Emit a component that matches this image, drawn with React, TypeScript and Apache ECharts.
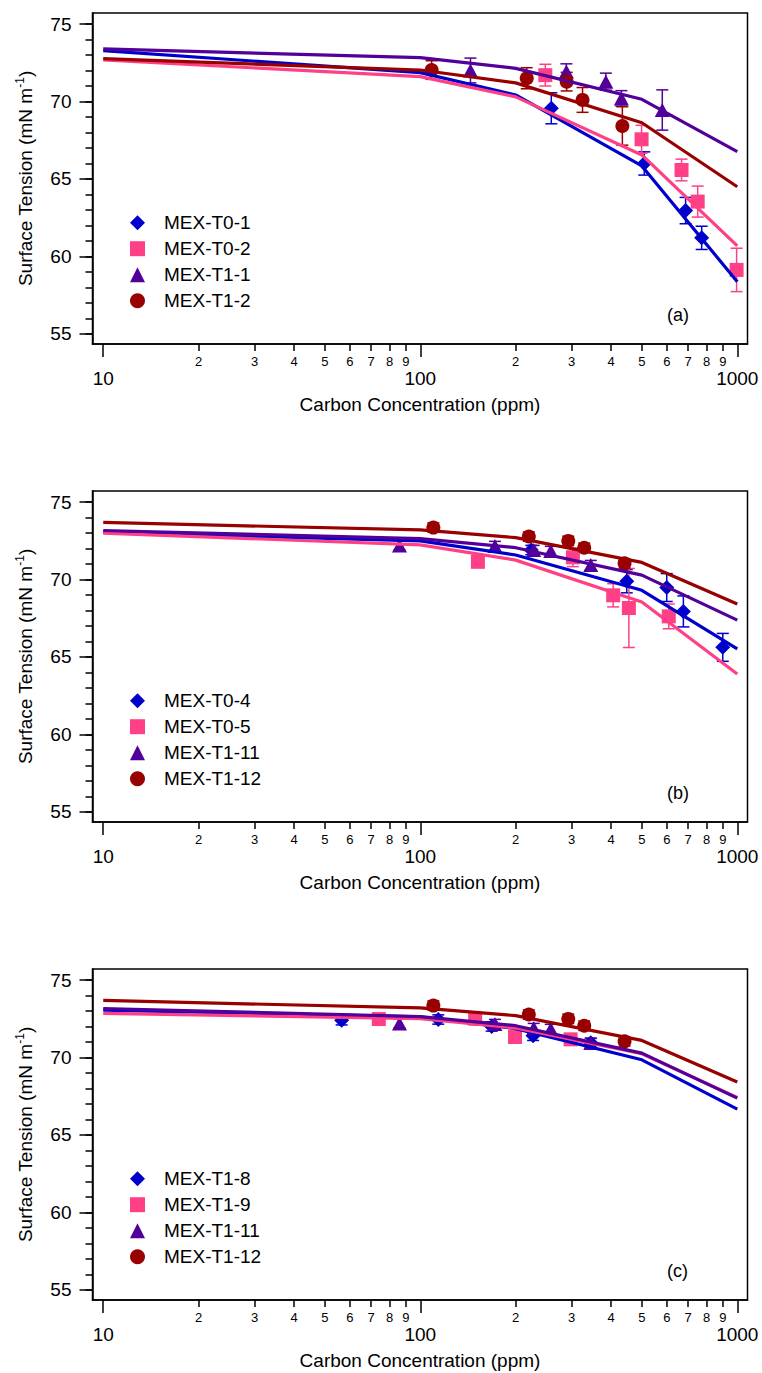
import React, { useEffect, useRef } from "react";
import * as echarts from "echarts";

const FONT = "'Liberation Sans', Arial, Helvetica, sans-serif";

// x positions of the model (fit) curves, ppm
const FIT_X = [10, 100, 200, 500, 1000];

// axis ticks
const X_MAJOR = [10, 100, 1000];
const X_MINOR = [2, 3, 4, 5, 6, 7, 8, 9, 20, 30, 40, 50, 60, 70, 80, 90, 200, 300, 400, 500, 600, 700, 800, 900];
const Y_MAJOR = [55, 60, 65, 70, 75];
const Y_MINOR = [55, 56, 57, 58, 59, 60, 61, 62, 63, 64, 65, 66, 67, 68, 69, 70, 71, 72, 73, 74, 75];
const X_RANGE = [9.25, 1077];
const Y_RANGE = [54.35, 75.71];

const PANEL_LABELS = ["(a)", "(b)", "(c)"];

// ---------- Panel (a)
const A_T01_X = [259, 509, 687, 772];
const A_T01_Y = [69.56, 66.0, 62.96, 61.2];
const A_T01_ERR = [1.0, 0.75, 0.85, 0.75];
const A_T01_FIT = [73.28, 71.86, 70.42, 65.84, 58.37];

const A_T02_X = [248, 499, 667, 750, 995];
const A_T02_Y = [71.7, 67.56, 65.58, 63.54, 59.13];
const A_T02_ERR = [0.7, 0.9, 0.7, 1.0, 1.4];
const A_T02_FIT = [72.68, 71.6, 70.3, 66.55, 60.68];

const A_T11_X = [144, 289, 385, 431, 580];
const A_T11_Y = [72.0, 71.93, 71.28, 70.2, 69.45];
const A_T11_ERR = [0.8, 0.5, 0.55, 0.5, 1.3];
const A_T11_FIT = [73.39, 72.83, 72.14, 70.14, 66.76];

const A_T12_X = [108.6, 216.7, 289.6, 325, 434];
const A_T12_Y = [72.03, 71.5, 71.28, 70.1, 68.42];
const A_T12_ERR = [0.6, 0.68, 0.6, 0.8, 1.24];
const A_T12_FIT = [72.76, 72.03, 71.2, 68.63, 64.5];

// ---------- Panel (b)
const B_T04_X = [224, 448, 599, 676, 900];
const B_T04_Y = [71.9, 69.89, 69.48, 67.94, 65.62];
const B_T04_ERR = [0.3, 0.75, 0.9, 1.0, 0.9];
const B_T04_FIT = [73.05, 72.49, 71.58, 69.3, 65.52];

const B_T05_X = [152, 303, 406, 455, 608];
const B_T05_Y = [71.14, 71.43, 68.98, 68.16, 67.62];
const B_T05_ERR = [0.3, 0.6, 0.75, 2.55, 0.8];
const B_T05_FIT = [72.99, 72.23, 71.25, 68.55, 63.9];

// ---------- shared by (b) and (c)
const T111_X = [86, 172, 228, 258, 345];
const T111_Y = [72.2, 72.16, 71.9, 71.84, 70.93];
const T111_ERR = [0.3, 0.3, 0.3, 0.3, 0.3];
const T111_FIT = [73.16, 72.64, 72.05, 70.28, 67.38];

const T112_X = [110, 220, 293, 329, 441];
const T112_Y = [73.35, 72.77, 72.49, 72.05, 71.04];
const T112_ERR = [0.3, 0.3, 0.3, 0.3, 0.3];
const T112_FIT = [73.68, 73.2, 72.7, 71.1, 68.42];

// ---------- Panel (c)
const C_T18_X = [56.5, 114, 168, 227, 345];
const C_T18_Y = [72.4, 72.45, 72.0, 71.4, 70.95];
const C_T18_ERR = [0.3, 0.3, 0.3, 0.3, 0.3];
const C_T18_FIT = [73.05, 72.62, 71.86, 69.85, 66.67];

const C_T19_X = [74, 149, 199, 298];
const C_T19_Y = [72.48, 72.5, 71.32, 71.17];
const C_T19_ERR = [0.3, 0.3, 0.3, 0.3];
const C_T19_FIT = [72.84, 72.51, 71.9, 70.24, 67.42];

const BLUE = "#0000cc";
const PINK = "#ff4086";
const PURPLE = "#520099";
const RED = "#990000";

type Sample = {
  name: string;
  color: string;
  symbol: string;
  size: number | number[];
  x: number[];
  y: number[];
  err: number[];
  fit: number[];
};

const DIAMOND = { symbol: "diamond", size: 15 };
const SQUARE = { symbol: "rect", size: 14 };
const TRI = { symbol: "triangle", size: [15, 14] };
const CIRC = { symbol: "circle", size: 14 };

const PANELS: Sample[][] = [
  [
    { name: "MEX-T0-1", color: BLUE, ...DIAMOND, x: A_T01_X, y: A_T01_Y, err: A_T01_ERR, fit: A_T01_FIT },
    { name: "MEX-T0-2", color: PINK, ...SQUARE, x: A_T02_X, y: A_T02_Y, err: A_T02_ERR, fit: A_T02_FIT },
    { name: "MEX-T1-1", color: PURPLE, ...TRI, x: A_T11_X, y: A_T11_Y, err: A_T11_ERR, fit: A_T11_FIT },
    { name: "MEX-T1-2", color: RED, ...CIRC, x: A_T12_X, y: A_T12_Y, err: A_T12_ERR, fit: A_T12_FIT },
  ],
  [
    { name: "MEX-T0-4", color: BLUE, ...DIAMOND, x: B_T04_X, y: B_T04_Y, err: B_T04_ERR, fit: B_T04_FIT },
    { name: "MEX-T0-5", color: PINK, ...SQUARE, x: B_T05_X, y: B_T05_Y, err: B_T05_ERR, fit: B_T05_FIT },
    { name: "MEX-T1-11", color: PURPLE, ...TRI, x: T111_X, y: T111_Y, err: T111_ERR, fit: T111_FIT },
    { name: "MEX-T1-12", color: RED, ...CIRC, x: T112_X, y: T112_Y, err: T112_ERR, fit: T112_FIT },
  ],
  [
    { name: "MEX-T1-8", color: BLUE, ...DIAMOND, x: C_T18_X, y: C_T18_Y, err: C_T18_ERR, fit: C_T18_FIT },
    { name: "MEX-T1-9", color: PINK, ...SQUARE, x: C_T19_X, y: C_T19_Y, err: C_T19_ERR, fit: C_T19_FIT },
    { name: "MEX-T1-11", color: PURPLE, ...TRI, x: T111_X, y: T111_Y, err: T111_ERR, fit: T111_FIT },
    { name: "MEX-T1-12", color: RED, ...CIRC, x: T112_X, y: T112_Y, err: T112_ERR, fit: T112_FIT },
  ],
];

const lg = (v: number) => Math.log10(v);

const GRID_LEFT = 92.5;
const GRID_WIDTH = 655;
const GRID_HEIGHT = 331;
const GRID_TOP0 = 13;
const PANEL_STEP = 478;

function buildOption() {
  const grid: any[] = [];
  const xAxis: any[] = [];
  const yAxis: any[] = [];
  const series: any[] = [];
  const legend: any[] = [];
  const graphic: any[] = [];

  for (let gi = 0; gi < 3; gi++) {
    const top = GRID_TOP0 + PANEL_STEP * gi;
    grid.push({
      left: GRID_LEFT,
      top,
      width: GRID_WIDTH,
      height: GRID_HEIGHT,
      show: true,
      borderColor: "#000",
      borderWidth: 1.5,
      backgroundColor: "transparent",
    });
    // major x axis
    xAxis.push({
      type: "value",
      gridIndex: gi,
      position: "bottom",
      min: lg(X_RANGE[0]),
      max: lg(X_RANGE[1]),
      name: "Carbon Concentration (ppm)",
      nameLocation: "middle",
      nameGap: 51,
      nameTextStyle: { fontSize: 19, color: "#000", fontFamily: FONT },
      axisLine: { show: true, lineStyle: { color: "#000", width: 1.5 } },
      axisTick: { show: true, customValues: X_MAJOR.map(lg), length: 13, lineStyle: { color: "#000", width: 1.5 } },
      axisLabel: {
        customValues: X_MAJOR.map(lg),
        formatter: (v: number) => String(Math.round(Math.pow(10, v))),
        fontSize: 19,
        color: "#000",
        fontFamily: FONT,
        margin: 25,
      },
      splitLine: { show: false },
    });
    // minor x axis
    xAxis.push({
      type: "value",
      gridIndex: gi,
      position: "bottom",
      min: lg(X_RANGE[0]),
      max: lg(X_RANGE[1]),
      axisLine: { show: false },
      axisTick: { show: true, customValues: X_MINOR.map(lg), length: 7, lineStyle: { color: "#000", width: 1.5 } },
      axisLabel: {
        customValues: X_MINOR.map(lg),
        formatter: (v: number) => {
          const raw = Math.pow(10, v);
          return String(Math.round(raw / Math.pow(10, Math.floor(v + 1e-9))));
        },
        fontSize: 13,
        color: "#000",
        fontFamily: FONT,
        margin: 11,
      },
      splitLine: { show: false },
    });
    // major y axis
    yAxis.push({
      type: "value",
      gridIndex: gi,
      position: "left",
      min: Y_RANGE[0],
      max: Y_RANGE[1],
      name: "Surface Tension (mN m{sup|-1})",
      nameLocation: "middle",
      nameRotate: 90,
      nameGap: 55,
      nameTextStyle: {
        fontSize: 19,
        color: "#000",
        fontFamily: FONT,
        rich: { sup: { fontSize: 12, color: "#000", fontFamily: FONT, padding: [0, 0, 12, 0] } },
      },
      axisLine: { show: true, lineStyle: { color: "#000", width: 1.5 } },
      axisTick: { show: true, customValues: Y_MAJOR, length: 13, lineStyle: { color: "#000", width: 1.5 } },
      axisLabel: { customValues: Y_MAJOR, fontSize: 19, color: "#000", fontFamily: FONT, margin: 21 },
      splitLine: { show: false },
    });
    // minor y axis
    yAxis.push({
      type: "value",
      gridIndex: gi,
      position: "left",
      min: Y_RANGE[0],
      max: Y_RANGE[1],
      axisLine: { show: false },
      axisTick: { show: true, customValues: Y_MINOR, length: 7, lineStyle: { color: "#000", width: 1.5 } },
      axisLabel: { show: false },
      splitLine: { show: false },
    });

    const samples = PANELS[gi];
    const xi = gi * 2;
    const yi = gi * 2;
    samples.forEach((s) => {
      series.push({
        type: "custom",
        name: `err-${gi}-${s.name}`,
        xAxisIndex: xi,
        yAxisIndex: yi,
        data: s.x.map((x, k) => [lg(x), s.y[k], s.err[k]]),
        encode: { x: 0, y: 1 },
        z: 3,
        silent: true,
        renderItem: (_p: any, api: any) => {
          const x = api.value(0);
          const y = api.value(1);
          const e = api.value(2);
          const a = api.coord([x, y + e]);
          const b = api.coord([x, y - e]);
          const hw = 6;
          const st = { stroke: s.color, lineWidth: 1.5 };
          return {
            type: "group",
            children: [
              { type: "line", shape: { x1: a[0], y1: a[1], x2: b[0], y2: b[1] }, style: st },
              { type: "line", shape: { x1: a[0] - hw, y1: a[1], x2: a[0] + hw, y2: a[1] }, style: st },
              { type: "line", shape: { x1: b[0] - hw, y1: b[1], x2: b[0] + hw, y2: b[1] }, style: st },
            ],
          };
        },
      });
      series.push({
        type: "scatter",
        name: s.name,
        xAxisIndex: xi,
        yAxisIndex: yi,
        data: s.x.map((x, k) => [lg(x), s.y[k]]),
        symbol: s.symbol,
        symbolSize: s.size,
        itemStyle: { color: s.color, opacity: 1 },
        z: 4,
        silent: true,
      });
    });
    samples.forEach((s) => {
      series.push({
        type: "line",
        name: `fit-${gi}-${s.name}`,
        xAxisIndex: xi,
        yAxisIndex: yi,
        data: FIT_X.map((x, k) => [lg(x), s.fit[k]]),
        symbol: "none",
        lineStyle: { color: s.color, width: 3.2 },
        itemStyle: { color: s.color },
        z: 5,
        silent: true,
      });
    });

    legend.push({
      orient: "vertical",
      left: 125,
      top: 207.7 + PANEL_STEP * gi,
      itemWidth: 15,
      itemHeight: 15,
      itemGap: 6,
      selectedMode: false,
      data: samples.map((s) => s.name),
      textStyle: { fontSize: 19, color: "#000", fontFamily: FONT, lineHeight: 20, padding: [0, 0, 0, 14] },
    });

    graphic.push({
      type: "text",
      left: 667,
      top: 306 + PANEL_STEP * gi,
      style: { text: PANEL_LABELS[gi], fontSize: 18, fill: "#000", fontFamily: FONT },
    });
  }

  return {
    animation: false,
    backgroundColor: "#fff",
    textStyle: { fontFamily: FONT },
    grid,
    xAxis,
    yAxis,
    series,
    legend,
    graphic,
  };
}

export default function App() {
  const ref = useRef<HTMLDivElement>(null);
  useEffect(() => {
    if (!ref.current) return;
    const chart = echarts.init(ref.current, undefined, { renderer: "svg" });
    chart.setOption(buildOption() as any);
    return () => chart.dispose();
  }, []);
  return (
    <div
      ref={ref}
      style={{ position: "absolute", left: 0, top: 0, width: 762, height: 1373, background: "#fff" }}
    />
  );
}
